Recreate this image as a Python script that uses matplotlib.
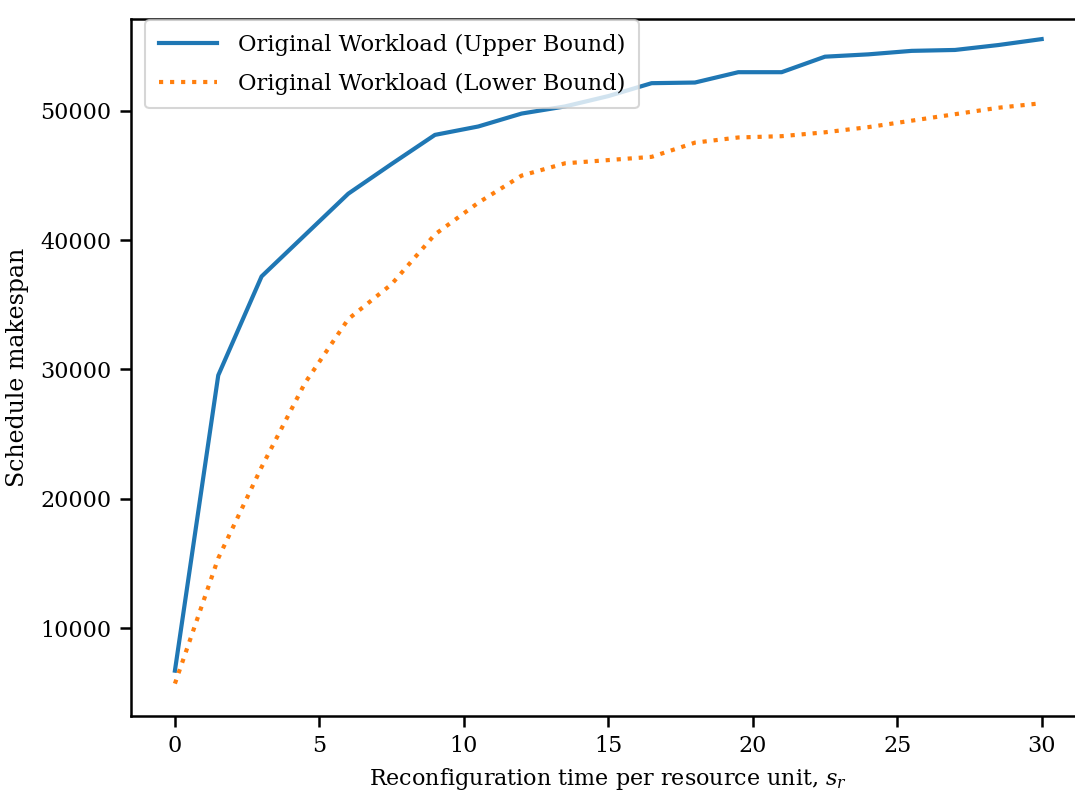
import matplotlib
matplotlib.use("Agg")
import matplotlib.pyplot as plt

x_vals = [0, 1.5, 3, 4.5, 6, 7.5, 9, 10.5, 12, 13.5, 15, 16.5, 18, 19.5, 21, 22.5, 24, 25.5, 27, 28.5, 30]
upper = [6700, 29550, 37200, 40400, 43600, 45900, 48150, 48800, 49800, 50350, 51150,
         52150, 52200, 53000, 53000, 54200, 54380, 54650, 54720, 55100, 55560]
lower = [5700, 15400, 22450, 28950, 33900, 36600, 40450, 42900, 45000, 45950, 46200,
         46450, 47550, 47950, 48050, 48350, 48750, 49250, 49750, 50250, 50600]
labels = ["Original Workload (Upper Bound)", "Original Workload (Lower Bound)"]

plt.rcParams['font.family'] = ['DejaVu Serif']
plt.rcParams['mathtext.fontset'] = 'dejavuserif'

fig = plt.figure(figsize=(10.75, 7.96), dpi=100)
ax = fig.add_axes([131/1075, 1-716/796, (1085-131)/1075, (716-19)/796])

ax.plot(x_vals, upper, color='#1f77b4', lw=3.0, ls='-', label=labels[0])
ax.plot(x_vals, lower, color='#ff7f0e', lw=3.0, ls=':', label=labels[1])

ax.set_xlim(-1.52, 31.5)
ax.set_ylim(3194, 57115)
ax.set_xticks([0, 5, 10, 15, 20, 25, 30])
ax.set_yticks([10000, 20000, 30000, 40000, 50000])

for s in ax.spines.values():
    s.set_linewidth(1.8)
ax.tick_params(axis='both', direction='out', length=8, width=1.8, labelsize=16, pad=6)

ax.set_xlabel(r'Reconfiguration time per resource unit, $s_r$', fontsize=16, labelpad=6)
ax.set_ylabel('Schedule makespan', fontsize=17, labelpad=8)

leg = ax.legend(loc='upper left', bbox_to_anchor=(0.0147, 0.9986), borderaxespad=0,
                fontsize=16.3, frameon=True, fancybox=True, handlelength=2.6,
                labelspacing=0.75, borderpad=0.6, handletextpad=0.9)
leg.get_frame().set_linewidth(1.5)

fig.savefig('out.png', dpi=100)
